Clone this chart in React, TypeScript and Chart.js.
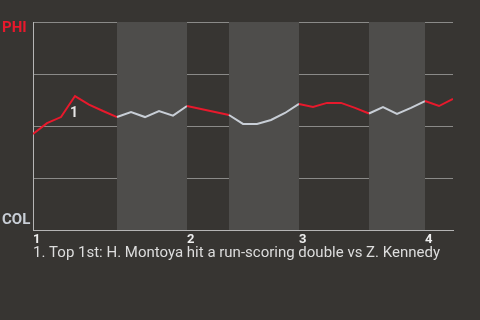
import React, { useEffect, useRef } from "react";
import { Chart, registerables } from "chart.js";

Chart.register(...registerables);

// Win probability for PHI after each plate appearance (0 = COL, 1 = PHI)
const winProb = [
  0.462, 0.514, 0.543, 0.644, 0.603, 0.572, 0.543,
  0.567, 0.543, 0.572, 0.55, 0.596,
  0.582, 0.567, 0.553,
  0.51, 0.51, 0.529, 0.5625, 0.606,
  0.591, 0.611, 0.611, 0.587, 0.56,
  0.591, 0.558, 0.587, 0.62,
  0.596, 0.63,
];
const inningStarts = [0, 11, 19, 28];
const inningLabels = ["1", "2", "3", "4"];
// bottom-half ranges [startIndex, endIndex]
const bottomHalves: [number, number][] = [
  [6, 11],
  [14, 19],
  [24, 28],
];
const eventIndex = 3;
const eventLabel = "1";
const footnote = "1. Top 1st: H. Montoya hit a run-scoring double vs Z. Kennedy";
const topTeam = "PHI";
const bottomTeam = "COL";

const BG = "#373532";
const BAND = "#4e4d4b";
const RED = "#e8192c";
const LIGHT = "#c8ced6";

export default function App() {
  const ref = useRef<HTMLCanvasElement | null>(null);
  useEffect(() => {
    const canvas = ref.current;
    if (!canvas) return;
    const isBottom = (i: number) =>
      bottomHalves.some(([s, e]) => i >= s && i + 1 <= e);

    const bandsPlugin = {
      id: "bands",
      beforeDatasetsDraw(chart: any) {
        const { ctx, chartArea, scales } = chart;
        ctx.save();
        ctx.fillStyle = BAND;
        for (const [s, e] of bottomHalves) {
          const x0 = scales.x.getPixelForValue(s);
          const x1 = scales.x.getPixelForValue(e);
          ctx.fillRect(x0, chartArea.top, x1 - x0, chartArea.bottom - chartArea.top);
        }
        ctx.restore();
      },
    };
    const labelsPlugin = {
      id: "labels",
      afterDraw(chart: any) {
        const { ctx, chartArea, scales } = chart;
        ctx.save();
        ctx.font = "bold 15px Roboto";
        ctx.textAlign = "left";
        ctx.textBaseline = "middle";
        ctx.fillStyle = RED;
        ctx.fillText(topTeam, 2, chartArea.top + 6);
        ctx.fillStyle = LIGHT;
        ctx.fillText(bottomTeam, 2, chartArea.bottom - 10);
        // event marker
        ctx.font = "bold 14px Roboto";
        ctx.textAlign = "center";
        ctx.fillStyle = "#e6e6e6";
        const ex = scales.x.getPixelForValue(eventIndex);
        const ey = scales.y.getPixelForValue(winProb[eventIndex]);
        ctx.fillText(eventLabel, ex - 1, ey + 17);
        // footnote
        ctx.font = "15px Roboto";
        ctx.textAlign = "left";
        ctx.textBaseline = "alphabetic";
        ctx.fillStyle = "#dddddd";
        ctx.fillText(footnote, chartArea.left, 257);
        ctx.restore();
      },
    };

    const chart = new Chart(canvas, {
      type: "line",
      data: {
        datasets: [
          {
            data: winProb.map((v, i) => ({ x: i, y: v })),
            borderWidth: 2,
            pointRadius: 0,
            tension: 0,
            borderColor: RED,
            segment: {
              borderColor: (ctx: any) => (isBottom(ctx.p0DataIndex) ? LIGHT : RED),
            },
          },
        ],
      },
      options: {
        animation: false,
        responsive: false,
        maintainAspectRatio: false,
        layout: { padding: { left: 33, top: 22, right: 27, bottom: 0 } },
        plugins: { legend: { display: false }, tooltip: { enabled: false } },
        scales: {
          x: {
            type: "linear",
            min: 0,
            max: winProb.length - 1,
            afterBuildTicks: (scale: any) => {
              scale.ticks = inningStarts.map((v) => ({ value: v }));
            },
            afterFit: (scale: any) => {
              scale.height = 90;
            },
            grid: { display: false, drawTicks: false },
            border: { display: true, color: "#b5b5b5", width: 1 },
            ticks: {
              autoSkip: false,
              maxRotation: 0,
              align: "start",
              padding: 2,
              color: "#eeeeee",
              font: { family: "Roboto", size: 13, weight: "bold" },
              callback: (v: any) => {
                const idx = inningStarts.indexOf(Number(v));
                return idx >= 0 ? inningLabels[idx] : "";
              },
            },
          },
          y: {
            min: 0,
            max: 1,
            afterBuildTicks: (scale: any) => {
              scale.ticks = [0, 0.25, 0.5, 0.75, 1].map((v) => ({ value: v }));
            },
            afterFit: (scale: any) => {
              scale.width = 0;
            },
            ticks: { display: false },
            grid: { color: "#8a8a88", lineWidth: 1, drawTicks: false },
            border: { display: true, color: "#b5b5b5", width: 1 },
          },
        },
      },
      plugins: [bandsPlugin, labelsPlugin],
    } as any);
    return () => chart.destroy();
  }, []);

  return (
    <div style={{ position: "fixed", inset: 0, background: BG }}>
      <canvas ref={ref} width={480} height={320} style={{ display: "block" }} />
    </div>
  );
}
